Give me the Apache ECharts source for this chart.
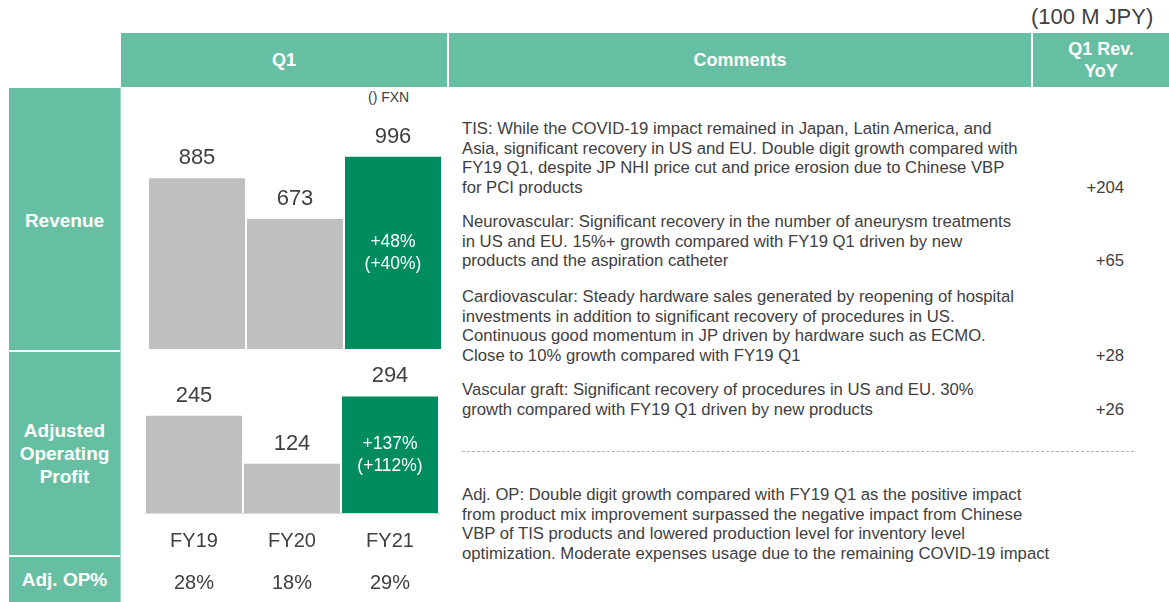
<!DOCTYPE html>
<html>
<head>
<meta charset="utf-8">
<script src="https://cdn.jsdelivr.net/npm/echarts@6/dist/echarts.min.js"></script>
<style>
  body { margin: 0; width: 1169px; height: 602px; position: relative; background: #fff;
         font-family: "Liberation Sans", Arial, sans-serif; overflow: hidden; }
  .cell { position: absolute; background: #66bfa2; color: #fff; font-weight: bold;
          display: flex; align-items: center; justify-content: center; text-align: center; }
  .txt { position: absolute; color: #404040; }
  #chart { position: absolute; left: 0; top: 0; width: 1169px; height: 602px; }
  .cmt { position: absolute; left: 462px; font-size: 16.7px; line-height: 19.7px; color: #404040; }
  .yoy { position: absolute; right: 45px; font-size: 16.7px; line-height: 19.7px; color: #404040; }
</style>
</head>
<body>
<div class="txt" style="left:1031px;top:4px;font-size:22px;">(100 M JPY)</div>
<div class="cell" style="left:121px;top:33px;width:326px;height:54px;font-size:18px;">Q1</div>
<div class="cell" style="left:449px;top:33px;width:582px;height:54px;font-size:18px;">Comments</div>
<div class="cell" style="left:1033px;top:33px;width:136px;height:54px;font-size:18px;line-height:22px;">Q1 Rev.<br>YoY</div>
<div class="cell" style="left:9px;top:88px;width:111px;height:262px;font-size:19px;padding-top:3px;box-sizing:border-box;">Revenue</div>
<div class="cell" style="left:9px;top:352px;width:111px;height:203px;font-size:19px;line-height:23px;">Adjusted<br>Operating<br>Profit</div>
<div class="cell" style="left:9px;top:557px;width:111px;height:45px;font-size:19px;">Adj. OP%</div>
<div style="position:absolute;left:120px;top:88px;width:1px;height:514px;background:#9fd8c4;"></div>
<div class="txt" style="left:368px;top:89px;font-size:14px;">() FXN</div>
<div style="position:absolute;left:462px;top:451px;width:672px;border-top:1px dashed #b0b0b0;"></div>
<div id="comments"></div>
<div id="chart"></div>
<script>
  // 数据
  var categories = ['FY19', 'FY20', 'FY21'];
  var revenue = [885, 673, 996];
  var adjOp = [245, 124, 294];
  var adjOpPct = ['28%', '18%', '29%'];
  var revGrowth = '+48%\n(+40%)';
  var opGrowth = '+137%\n(+112%)';

  var comments = [
    ['TIS: While the COVID-19 impact remained in Japan, Latin America, and',
     'Asia, significant recovery in US and EU. Double digit growth compared with',
     'FY19 Q1, despite JP NHI price cut and price erosion due to Chinese VBP',
     'for PCI products'],
    ['Neurovascular: Significant recovery in the number of aneurysm treatments',
     'in US and EU. 15%+ growth compared with FY19 Q1 driven by new',
     'products and the aspiration catheter'],
    ['Cardiovascular: Steady hardware sales generated by reopening of hospital',
     'investments in addition to significant recovery of procedures in US.',
     'Continuous good momentum in JP driven by hardware such as ECMO.',
     'Close to 10% growth compared with FY19 Q1'],
    ['Vascular graft: Significant recovery of procedures in US and EU. 30%',
     'growth compared with FY19 Q1 driven by new products'],
    ['Adj. OP: Double digit growth compared with FY19 Q1 as the positive impact',
     'from product mix improvement surpassed the negative impact from Chinese',
     'VBP of TIS products and lowered production level for inventory level',
     'optimization. Moderate expenses usage due to the remaining COVID-19 impact']
  ];
  var revYoY = ['+204', '+65', '+28', '+26', ''];
  var commentTops = [119, 212, 287, 380, 485];

  // 注释文字
  var box = document.getElementById('comments');
  comments.forEach(function (lines, i) {
    var d = document.createElement('div');
    d.className = 'cmt';
    d.style.top = commentTops[i] + 'px';
    d.innerHTML = lines.join('<br>');
    box.appendChild(d);
    if (revYoY[i]) {
      var y = document.createElement('div');
      y.className = 'yoy';
      y.style.top = (commentTops[i] + (lines.length - 1) * 19.7) + 'px';
      y.textContent = revYoY[i];
      box.appendChild(y);
    }
  });

  var grey = '#bfbfbf', green = '#008c5f', textColor = '#404040';
  function barData(vals) {
    return vals.map(function (v, i) {
      return { value: v, itemStyle: { color: i === vals.length - 1 ? green : grey } };
    });
  }
  function innerData(vals, txt) {
    return vals.map(function (v, i) {
      var last = i === vals.length - 1;
      return { value: v, label: { show: last, formatter: txt } };
    });
  }

  var chart = echarts.init(document.getElementById('chart'));
  chart.setOption({
    animation: false,
    grid: [
      { left: 148, width: 294, top: 156, height: 193 },
      { left: 145, width: 294, top: 394, height: 119 }
    ],
    xAxis: [
      { gridIndex: 0, type: 'category', data: categories, axisLine: { show: false },
        axisTick: { show: false }, axisLabel: { show: false } },
      { gridIndex: 1, type: 'category', data: categories,
        axisLine: { lineStyle: { color: '#d9d9d9', width: 1 } },
        axisTick: { show: false },
        axisLabel: { color: textColor, fontSize: 20, margin: 18, fontFamily: 'Liberation Sans' } },
      { gridIndex: 1, type: 'category', data: adjOpPct, position: 'bottom', offset: 42,
        axisLine: { show: false }, axisTick: { show: false },
        axisLabel: { color: textColor, fontSize: 20, margin: 18, fontFamily: 'Liberation Sans' } }
    ],
    yAxis: [
      { gridIndex: 0, type: 'value', min: 0, max: 1000, show: false },
      { gridIndex: 1, type: 'value', min: 0, max: 300, show: false }
    ],
    series: [
      { type: 'bar', xAxisIndex: 0, yAxisIndex: 0, data: barData(revenue), barWidth: 96,
        label: { show: true, position: 'top', distance: 9, color: textColor, fontSize: 22,
                 fontFamily: 'Liberation Sans' } },
      { type: 'bar', xAxisIndex: 0, yAxisIndex: 0, data: innerData(revenue, revGrowth),
        barWidth: 96, barGap: '-100%', itemStyle: { color: 'rgba(0,0,0,0)' },
        label: { position: 'inside', color: '#fff', fontSize: 17.5, lineHeight: 22,
                 fontFamily: 'Liberation Sans' } },
      { type: 'bar', xAxisIndex: 1, yAxisIndex: 1, data: barData(adjOp), barWidth: 96,
        label: { show: true, position: 'top', distance: 9, color: textColor, fontSize: 22,
                 fontFamily: 'Liberation Sans' } },
      { type: 'bar', xAxisIndex: 1, yAxisIndex: 1, data: innerData(adjOp, opGrowth),
        barWidth: 96, barGap: '-100%', itemStyle: { color: 'rgba(0,0,0,0)' },
        label: { position: 'inside', color: '#fff', fontSize: 17.5, lineHeight: 22,
                 fontFamily: 'Liberation Sans' } }
    ]
  });
</script>
</body>
</html>
